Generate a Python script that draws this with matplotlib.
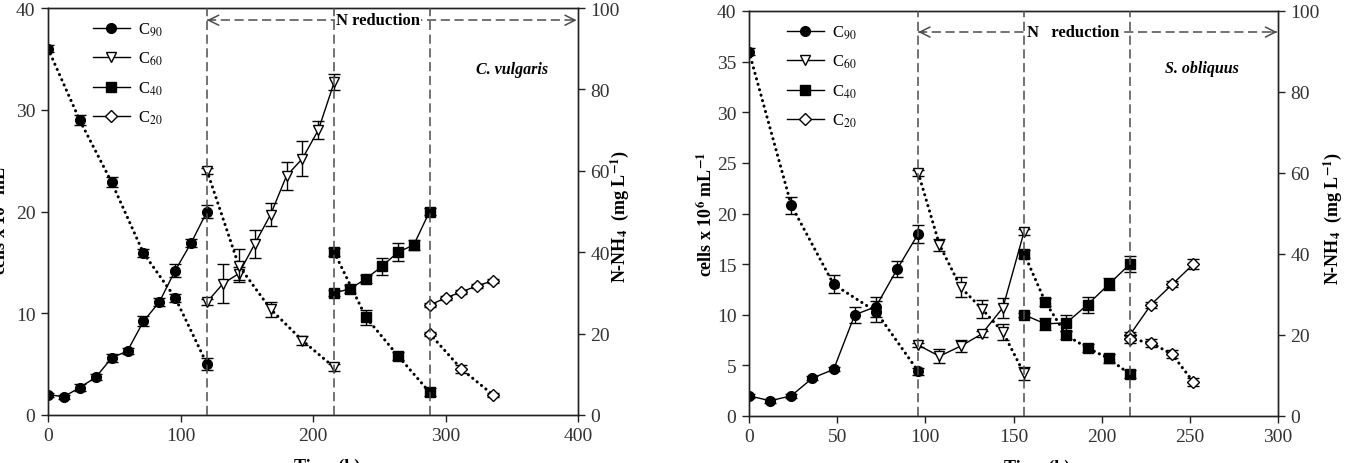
import matplotlib
matplotlib.use("Agg")
import matplotlib.pyplot as plt
from matplotlib.lines import Line2D

plt.rcParams['font.family'] = ['Liberation Serif', 'DejaVu Serif']
plt.rcParams['mathtext.fontset'] = 'stix'

# ---------------- Data: C. vulgaris ----------------
cv_c90_t = [0, 12, 24, 36, 48, 60, 72, 84, 96, 108, 120]
cv_c90_cells = [2.0, 1.8, 2.7, 3.7, 5.6, 6.3, 9.2, 11.1, 14.2, 16.9, 20.0]
cv_c90_cells_err = [0.2, 0.2, 0.3, 0.3, 0.4, 0.3, 0.5, 0.4, 0.6, 0.4, 0.6]
cv_c90_n_t = [0, 24, 48, 72, 96, 120]
cv_c90_n = [90, 72.4, 57.2, 39.8, 28.8, 12.5]
cv_c90_n_err = [0.8, 1.2, 1.2, 1.0, 1.0, 1.5]

cv_c60_t = [120, 132, 144, 156, 168, 180, 192, 204, 216]
cv_c60_cells = [11.1, 12.9, 13.9, 16.8, 19.7, 23.5, 25.2, 28.0, 32.7]
cv_c60_cells_err = [0.3, 1.9, 0.6, 1.4, 1.1, 1.4, 1.7, 0.9, 0.8]
cv_c60_n_t = [120, 144, 168, 192, 216]
cv_c60_n = [60, 36.7, 26.0, 18.3, 11.7]
cv_c60_n_err = [0.8, 4.0, 1.8, 1.0, 0.8]

cv_c40_t = [216, 228, 240, 252, 264, 276, 288]
cv_c40_cells = [12.0, 12.4, 13.4, 14.6, 16.0, 16.7, 20.0]
cv_c40_cells_err = [0.3, 0.4, 0.4, 0.8, 0.9, 0.5, 0.3]
cv_c40_n_t = [216, 240, 264, 288]
cv_c40_n = [40.0, 24.0, 14.6, 5.6]
cv_c40_n_err = [1.0, 1.8, 1.0, 1.0]

cv_c20_t = [288, 300, 312, 324, 336]
cv_c20_cells = [10.8, 11.5, 12.1, 12.7, 13.2]
cv_c20_cells_err = [0.2, 0.2, 0.2, 0.2, 0.2]
cv_c20_n_t = [288, 312, 336]
cv_c20_n = [20.0, 11.3, 4.9]
cv_c20_n_err = [0.5, 1.0, 0.5]

# ---------------- Data: S. obliquus ----------------
so_c90_t = [0, 12, 24, 36, 48, 60, 72, 84, 96]
so_c90_cells = [2.0, 1.5, 2.0, 3.75, 4.6, 10.0, 10.8, 14.5, 18.0]
so_c90_cells_err = [0.2, 0.2, 0.2, 0.2, 0.2, 0.8, 1.0, 0.8, 0.9]
so_c90_n_t = [0, 24, 48, 72, 96]
so_c90_n = [90, 52.0, 32.5, 25.8, 11.0]
so_c90_n_err = [0.8, 2.0, 2.2, 2.5, 0.8]

so_c60_t = [96, 108, 120, 132, 144, 156]
so_c60_cells = [7.0, 5.9, 6.9, 8.1, 10.7, 18.2]
so_c60_cells_err = [0.2, 0.7, 0.6, 0.3, 1.0, 0.3]
so_c60_n_t = [96, 108, 120, 132, 144, 156]
so_c60_n = [60, 42.3, 31.8, 26.5, 20.7, 10.5]
so_c60_n_err = [0.8, 1.5, 2.5, 2.2, 2.0, 1.5]

so_c40_t = [156, 168, 180, 192, 204, 216]
so_c40_cells = [10.0, 9.1, 9.2, 11.0, 13.0, 15.0]
so_c40_cells_err = [0.2, 0.6, 0.8, 0.8, 0.6, 0.8]
so_c40_n_t = [156, 168, 180, 192, 204, 216]
so_c40_n = [40.1, 28.2, 19.9, 16.8, 14.2, 10.3]
so_c40_n_err = [1.0, 1.0, 1.0, 1.0, 1.0, 1.0]

so_c20_t = [216, 228, 240, 252]
so_c20_cells = [8.0, 11.0, 13.0, 15.0]
so_c20_cells_err = [0.3, 0.3, 0.3, 0.5]
so_c20_n_t = [216, 228, 240, 252]
so_c20_n = [19.0, 18.1, 15.2, 8.4]
so_c20_n_err = [1.0, 1.0, 1.0, 1.0]

series_labels = ['C$_{90}$', 'C$_{60}$', 'C$_{40}$', 'C$_{20}$']

# ---------------- Styles ----------------
styles = [
    dict(marker='o', mfc='black', ms=7),
    dict(marker='v', mfc='white', ms=7.5),
    dict(marker='s', mfc='black', ms=6.5),
    dict(marker='D', mfc='white', ms=6),
]

TICK_COLOR = '#333333'
DASH_COLOR = '#4d4d4d'


def draw_series(ax, t, y, err, style, dotted):
    common = dict(color='black', mec='black', mew=1.0, elinewidth=1.0,
                  capsize=4, capthick=1.0, ecolor='black')
    if dotted:
        eb = ax.errorbar(t, y, yerr=err, marker=style['marker'], mfc=style['mfc'],
                         ms=style['ms'], lw=2.2, ls=(0, (0.05, 1.8)), **common)
        eb[0].set_dash_capstyle('round')
    else:
        ax.errorbar(t, y, yerr=err, marker=style['marker'], mfc=style['mfc'],
                    ms=style['ms'], lw=1.0, ls='-', **common)


def style_axes(ax, ax2, xmax, xstep, ystep):
    ax.set_xlim(0, xmax)
    ax.set_ylim(0, 40)
    ax2.set_ylim(0, 100)
    ax.set_xticks(range(0, xmax + 1, xstep))
    ax.set_yticks([v for v in range(0, 41, ystep)])
    ax2.set_yticks(range(0, 101, 20))
    for a in (ax, ax2):
        a.tick_params(direction='out', length=5, width=1.0, labelsize=14,
                      labelcolor=TICK_COLOR, color='#222222', pad=4)
        for s in a.spines.values():
            s.set_linewidth(1.0)
            s.set_color('#222222')


def decorate(ax2, vlines, arrow_x0, arrow_x1, arrow_y, text, text_x,
             species, species_x, species_y):
    for x in vlines:
        ax2.axvline(x, color=DASH_COLOR, lw=1.1, ls=(0, (6, 3)), zorder=5)
    ax2.plot([arrow_x0, arrow_x1], [arrow_y, arrow_y], color=DASH_COLOR,
             lw=1.1, ls=(0, (6, 3)), zorder=5)
    for xa, xb in ((arrow_x0, arrow_x0 + 3), (arrow_x1, arrow_x1 - 3)):
        ax2.annotate('', xy=(xa, arrow_y), xytext=(xb, arrow_y),
                     arrowprops=dict(arrowstyle='->', color=DASH_COLOR, lw=1.1,
                                     mutation_scale=18, shrinkA=0, shrinkB=0),
                     zorder=6)
    ax2.text(text_x, arrow_y, text, ha='center', va='center', fontsize=12,
             fontweight='bold', zorder=7,
             bbox=dict(facecolor='white', edgecolor='none', pad=1.0))
    ax2.text(species_x, species_y, species, ha='center', va='center',
             fontsize=11.5, fontweight='bold', fontstyle='italic')


legend_handles = [Line2D([0], [0], color='black', lw=1.0, marker=st['marker'],
                         mfc=st['mfc'], mec='black', mew=1.0, ms=st['ms'])
                  for st in styles]

fig = plt.figure(figsize=(13.54, 4.64), dpi=100)

# ---------------- Panel 1 ----------------
ax1 = fig.add_axes([48 / 1354, 48 / 464, 530 / 1354, 407 / 464])
ax1b = ax1.twinx()
cv_cells = [(cv_c90_t, cv_c90_cells, cv_c90_cells_err),
            (cv_c60_t, cv_c60_cells, cv_c60_cells_err),
            (cv_c40_t, cv_c40_cells, cv_c40_cells_err),
            (cv_c20_t, cv_c20_cells, cv_c20_cells_err)]
cv_n = [(cv_c90_n_t, cv_c90_n, cv_c90_n_err),
        (cv_c60_n_t, cv_c60_n, cv_c60_n_err),
        (cv_c40_n_t, cv_c40_n, cv_c40_n_err),
        (cv_c20_n_t, cv_c20_n, cv_c20_n_err)]
for (t, y, e), st in zip(cv_cells, styles):
    draw_series(ax1, t, y, e, st, False)
for (t, y, e), st in zip(cv_n, styles):
    draw_series(ax1b, t, y, e, st, True)
style_axes(ax1, ax1b, 400, 100, 10)
decorate(ax1b, [120, 216, 288], 120, 399, 97.0, 'N reduction', 249,
         'C. vulgaris', 350, 85)

# ---------------- Panel 2 ----------------
ax2 = fig.add_axes([749 / 1354, 47 / 464, 529 / 1354, 405 / 464])
ax2b = ax2.twinx()
so_cells = [(so_c90_t, so_c90_cells, so_c90_cells_err),
            (so_c60_t, so_c60_cells, so_c60_cells_err),
            (so_c40_t, so_c40_cells, so_c40_cells_err),
            (so_c20_t, so_c20_cells, so_c20_cells_err)]
so_n = [(so_c90_n_t, so_c90_n, so_c90_n_err),
        (so_c60_n_t, so_c60_n, so_c60_n_err),
        (so_c40_n_t, so_c40_n, so_c40_n_err),
        (so_c20_n_t, so_c20_n, so_c20_n_err)]
for (t, y, e), st in zip(so_cells, styles):
    draw_series(ax2, t, y, e, st, False)
for (t, y, e), st in zip(so_n, styles):
    draw_series(ax2b, t, y, e, st, True)
style_axes(ax2, ax2b, 300, 50, 5)
decorate(ax2b, [96, 156, 216], 96, 299.5, 94.8, 'N   reduction', 184,
         'S. obliquus', 257, 86)

# ---------------- Labels & legends ----------------
ylab = 'cells x 10$^{\\mathbf{6}}$ mL$^{\\mathbf{-1}}$'
rlab = 'N-NH$_{\\mathbf{4}}$  (mg L$^{\\mathbf{-1}}$)'
for ax, axb, xoff, lpos, rpos, lx in ((ax1, ax1b, 0.527, 38, 30, 0.085),
                                       (ax2, ax2b, 0.545, 33, 43, 0.072)):
    w = ax.get_position().width * 1354
    h = ax.get_position().height * 464
    ax.set_ylabel(ylab, fontsize=13, fontweight='bold')
    ax.yaxis.set_label_coords(-lpos / w, 0.5)
    axb.set_ylabel(rlab, fontsize=13, fontweight='bold', rotation=90)
    axb.yaxis.set_label_coords(1 + rpos / w, 0.49)
    ax.set_xlabel('Time (h)', fontsize=13, fontweight='bold')
    ax.xaxis.set_label_coords(xoff, -43 / h)
    leg = axb.legend(legend_handles, series_labels, loc='upper left',
                     bbox_to_anchor=(lx, 1 - 13 / h), frameon=False,
                     fontsize=12, handlelength=2.2, handletextpad=0.5,
                     labelspacing=0.72, borderpad=0, borderaxespad=0)
    leg.set_zorder(10)

fig.savefig('out.png', dpi=100)
